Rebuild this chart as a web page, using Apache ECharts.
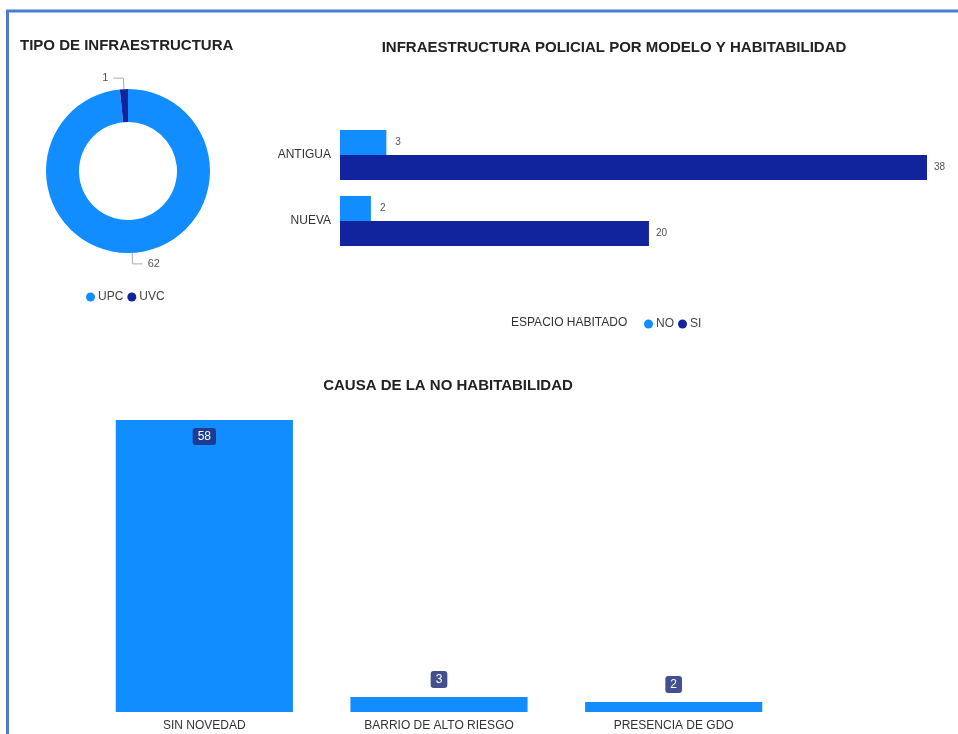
<!DOCTYPE html>
<html>
<head>
<meta charset="utf-8">
<script src="https://cdn.jsdelivr.net/npm/echarts@6/dist/echarts.min.js"></script>
<style>
html,body{margin:0;padding:0;background:#fff;}
#main{width:958px;height:734px;}
</style>
</head>
<body>
<div id="main"></div>
<script>
// donut - tipo de infraestructura
var tipoNames = ['UPC', 'UVC'];
var tipoValues = [62, 1];

// barras horizontales - modelo y habitabilidad
var modelos = ['ANTIGUA', 'NUEVA'];
var habitadoNo = [3, 2];
var habitadoSi = [38, 20];

// columnas - causa de la no habitabilidad
var causas = ['SIN NOVEDAD', 'BARRIO DE ALTO RIESGO', 'PRESENCIA DE GDO'];
var causaValues = [58, 3, 2];

var celeste = '#118dff';
var azul = '#12239e';
var fuente = '"Liberation Sans", Arial, sans-serif';

var chart = echarts.init(document.getElementById('main'));

var option = {
  animation: false,
  textStyle: { fontFamily: fuente },
  title: [
    { text: 'TIPO DE INFRAESTRUCTURA', left: 15, top: 33,
      textStyle: { fontSize: 15, fontWeight: 'bold', color: '#222' } },
    { text: 'INFRAESTRUCTURA POLICIAL POR MODELO Y HABITABILIDAD', left: 609, top: 35, textAlign: 'center',
      textStyle: { fontSize: 15, fontWeight: 'bold', color: '#222' } },
    { text: 'CAUSA DE LA NO HABITABILIDAD', left: 443, top: 373, textAlign: 'center',
      textStyle: { fontSize: 15, fontWeight: 'bold', color: '#222' } }
  ],
  legend: [
    { data: tipoNames, left: 81, top: 286, icon: 'circle', itemWidth: 9, itemHeight: 9, itemGap: 4,
      textStyle: { fontSize: 12, color: '#444', padding: [0, 0, 0, -2] } },
    { data: ['NO', 'SI'], left: 639, top: 313, icon: 'circle', itemWidth: 9, itemHeight: 9, itemGap: 4,
      textStyle: { fontSize: 12, color: '#444', padding: [0, 0, 0, -2] } }
  ],
  graphic: [
    { type: 'polyline', shape: { points: [[7.5, 740], [7.5, 11], [960, 11]] },
      style: { stroke: '#4d7bd0', lineWidth: 3, fill: null } },
    { type: 'text', left: 511, top: 317,
      style: { text: 'ESPACIO HABITADO', fontSize: 12, fill: '#333', fontFamily: fuente } }
  ],
  grid: [
    { left: 340, top: 122, width: 587, height: 132 },
    { left: 87, top: 420, width: 704, height: 292 }
  ],
  xAxis: [
    { gridIndex: 0, type: 'value', min: 0, max: 38, show: false },
    { gridIndex: 1, type: 'category', data: causas,
      axisLine: { show: false }, axisTick: { show: false },
      axisLabel: { fontSize: 12, color: '#333', margin: 8 } }
  ],
  yAxis: [
    { gridIndex: 0, type: 'category', data: modelos, inverse: true,
      axisLine: { show: false }, axisTick: { show: false },
      axisLabel: { fontSize: 12, color: '#333', margin: 9 } },
    { gridIndex: 1, type: 'value', min: 0, max: 58, show: false }
  ],
  series: [
    {
      type: 'pie', name: 'Tipo', center: [128, 171], radius: [49, 82],
      startAngle: 90, clockwise: true,
      data: tipoNames.map(function (n, i) { return { name: n, value: tipoValues[i] }; }),
      color: [celeste, azul],
      itemStyle: { borderColor: '#fff', borderWidth: 0 },
      label: { position: 'outside', formatter: '{c}', fontSize: 11, color: '#555' },
      labelLine: { length: 11, length2: 10, lineStyle: { color: '#aaa', width: 1 } }
    },
    {
      type: 'bar', name: 'NO', xAxisIndex: 0, yAxisIndex: 0, data: habitadoNo,
      itemStyle: { color: celeste }, barGap: '0%', barCategoryGap: '24%',
      label: { show: true, position: 'right', distance: 9, fontSize: 10, color: '#555' }
    },
    {
      type: 'bar', name: 'SI', xAxisIndex: 0, yAxisIndex: 0, data: habitadoSi,
      itemStyle: { color: azul }, barGap: '0%', barCategoryGap: '24%',
      label: { show: true, position: 'right', distance: 7, fontSize: 10, color: '#555' }
    },
    {
      type: 'bar', name: 'Causa', xAxisIndex: 1, yAxisIndex: 1,
      barCategoryGap: '24.5%',
      itemStyle: { color: celeste },
      data: causaValues.map(function (v, i) {
        var dentro = i === 0;
        return {
          value: v,
          label: {
            show: true,
            position: dentro ? 'insideTop' : 'top',
            distance: dentro ? 8 : 9,
            backgroundColor: dentro ? '#1d3a94' : '#444f8e',
            color: '#fff', fontSize: 12, borderRadius: 3,
            padding: [3, 5, 2, 5]
          }
        };
      })
    }
  ]
};

chart.setOption(option);
</script>
</body>
</html>
